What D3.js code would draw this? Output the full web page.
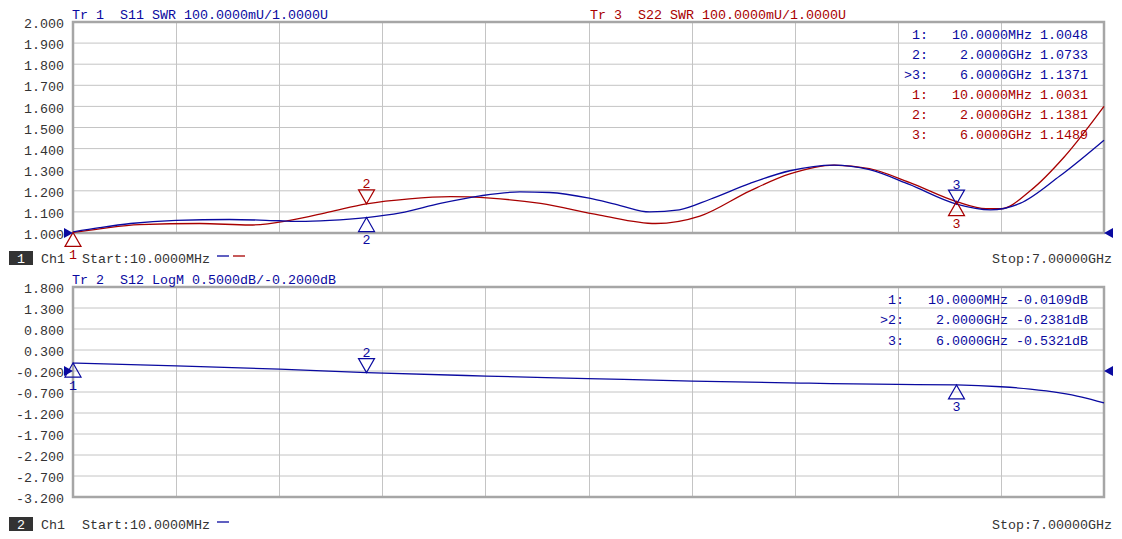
<!DOCTYPE html>
<html>
<head>
<meta charset="utf-8">
<script src="https://cdn.jsdelivr.net/npm/d3@7"></script>
<style>
  html, body { margin: 0; padding: 0; background: #fff; }
  svg text { font-family: "Liberation Mono", "DejaVu Sans Mono", monospace; font-size: 13.33px; white-space: pre; }
</style>
</head>
<body>
<svg id="chart" width="1122" height="539"></svg>
<script>
// ---------------- DATA ----------------
const startGHz = 0.01, stopGHz = 7.0;

const topTickLabels = [2.0, 1.9, 1.8, 1.7, 1.6, 1.5, 1.4, 1.3, 1.2, 1.1, 1.0];
const botTickLabels = [1.8, 1.3, 0.8, 0.3, -0.2, -0.7, -1.2, -1.7, -2.2, -2.7, -3.2];

// Trace 1: S11 SWR (blue)
const s11Freq = [0.01, 0.19, 0.40, 0.71, 1.07, 1.41, 1.55, 1.75, 2.00, 2.23, 2.50, 2.77, 3.04, 3.24, 3.51, 3.72, 3.92, 4.12, 4.33, 4.60, 4.87, 5.17, 5.41, 5.68, 6.00, 6.23, 6.43, 6.70, 7.00];
const s11Vals = [1.0048, 1.025, 1.045, 1.060, 1.064, 1.058, 1.055, 1.060, 1.0733, 1.095, 1.140, 1.176, 1.195, 1.192, 1.165, 1.130, 1.100, 1.110, 1.160, 1.235, 1.295, 1.322, 1.300, 1.230, 1.1371, 1.110, 1.140, 1.270, 1.440];

// Trace 3: S22 SWR (red)
const s22Freq = [0.01, 0.19, 0.46, 0.87, 1.21, 1.48, 1.75, 2.00, 2.29, 2.57, 2.84, 3.18, 3.58, 3.96, 4.26, 4.60, 4.87, 5.17, 5.41, 5.68, 6.00, 6.20, 6.30, 6.50, 6.73, 7.00];
const s22Vals = [1.0031, 1.020, 1.040, 1.045, 1.038, 1.060, 1.100, 1.1381, 1.162, 1.172, 1.165, 1.140, 1.085, 1.045, 1.080, 1.200, 1.280, 1.322, 1.305, 1.240, 1.1489, 1.115, 1.115, 1.200, 1.360, 1.600];

// Trace 2: S12 LogM dB (blue)
const s12Freq = [0.01, 0.71, 1.41, 2.00, 2.81, 3.50, 4.21, 5.00, 5.60, 6.00, 6.30, 6.50, 6.70, 6.85, 7.00];
const s12Vals = [-0.0109, -0.080, -0.155, -0.2381, -0.320, -0.380, -0.440, -0.490, -0.520, -0.5321, -0.575, -0.630, -0.720, -0.820, -0.960];

// Markers
const markerFreq = [0.01, 2.0, 6.0];
const markerNames = ["1", "2", "3"];
const s11Markers = [1.0048, 1.0733, 1.1371];
const s22Markers = [1.0031, 1.1381, 1.1489];
const s12Markers = [-0.0109, -0.2381, -0.5321];
const markerFreqText = ["10.0000MHz", "2.0000GHz", "2.0000GHz"];

// ---------------- LAYOUT ----------------
const BLUE = "#0a0aa0", RED = "#a80000", GRID = "#c4c4c4", BORDER = "#a6a6a6", LABEL = "#333333";
const svg = d3.select("#chart");

const x = d3.scaleLinear().domain([startGHz, stopGHz]).range([73, 1104]);
const yTop = d3.scaleLinear().domain([1.0, 2.0]).range([233, 22]);
const yBot = d3.scaleLinear().domain([-3.2, 1.8]).range([497, 287]);

const xGrid = d3.range(11).map(i => startGHz + i * (stopGHz - startGHz) / 10);

function panel(y, ticks) {
  const g = svg.append("g");
  // gridlines
  g.selectAll("line.h").data(ticks).join("line")
    .attr("x1", x.range()[0]).attr("x2", x.range()[1])
    .attr("y1", d => y(d)).attr("y2", d => y(d))
    .attr("stroke", GRID).attr("stroke-width", 1);
  g.selectAll("line.v").data(xGrid).join("line")
    .attr("x1", d => Math.round(x(d)) + 0.5).attr("x2", d => Math.round(x(d)) + 0.5)
    .attr("y1", y.range()[1]).attr("y2", y.range()[0])
    .attr("stroke", GRID).attr("stroke-width", 1);
  // border
  g.append("rect")
    .attr("x", x.range()[0]).attr("y", y.range()[1])
    .attr("width", x.range()[1] - x.range()[0]).attr("height", y.range()[0] - y.range()[1])
    .attr("fill", "none").attr("stroke", BORDER).attr("stroke-width", 2.5);
  // tick labels
  const ax = d3.axisLeft(y).tickValues(ticks).tickSize(0).tickPadding(9).tickFormat(d => d.toFixed(3));
  const a = svg.append("g").attr("transform", `translate(${x.range()[0]},0)`).call(ax);
  a.select(".domain").remove();
  a.selectAll("text").attr("fill", LABEL).attr("font-family", "Liberation Mono").attr("font-size", "13.33px")
    .attr("dy", "0.42em");
  return g;
}

panel(yTop, topTickLabels);
panel(yBot, botTickLabels);

// headers
function txt(xp, yp, s, color, anchor) {
  return svg.append("text").attr("x", xp).attr("y", yp).attr("fill", color)
    .attr("text-anchor", anchor || "start").text(s);
}
txt(72, 18.5, "Tr 1  S11 SWR 100.0000mU/1.0000U", BLUE);
txt(590, 18.5, "Tr 3  S22 SWR 100.0000mU/1.0000U", RED);
txt(72, 283.5, "Tr 2  S12 LogM 0.5000dB/-0.2000dB", BLUE);

// marker tables
const topRows = [
  [" 1:   10.0000MHz 1.0048", BLUE],
  [" 2:    2.0000GHz 1.0733", BLUE],
  [">3:    6.0000GHz 1.1371", BLUE],
  [" 1:   10.0000MHz 1.0031", RED],
  [" 2:    2.0000GHz 1.1381", RED],
  [" 3:    6.0000GHz 1.1489", RED]
];
topRows.forEach((r, i) => txt(1088, 38.5 + i * 20, r[0], r[1], "end"));
const botRows = [
  [" 1:   10.0000MHz -0.0109dB", BLUE],
  [">2:    2.0000GHz -0.2381dB", BLUE],
  [" 3:    6.0000GHz -0.5321dB", BLUE]
];
botRows.forEach((r, i) => txt(1088, 303.5 + i * 20.5, r[0], r[1], "end"));

// traces
function trace(fr, vals, y, color) {
  const line = d3.line().x((d, i) => x(fr[i])).y(d => y(d)).curve(d3.curveMonotoneX);
  svg.append("path").attr("d", line(vals)).attr("fill", "none")
    .attr("stroke", color).attr("stroke-width", 1.3);
}
trace(s22Freq, s22Vals, yTop, RED);
trace(s11Freq, s11Vals, yTop, BLUE);
trace(s12Freq, s12Vals, yBot, BLUE);

// markers
function marker(f, v, y, color, name, below) {
  const cx = x(f), cy = y(v), w = 8, h = 14;
  const pts = below
    ? [[cx, cy], [cx - w, cy + h], [cx + w, cy + h]]
    : [[cx, cy], [cx - w, cy - h], [cx + w, cy - h]];
  svg.append("path").attr("d", d3.line()(pts) + "Z")
    .attr("fill", "none").attr("stroke", color).attr("stroke-width", 1.2);
  txt(cx, below ? cy + h + 12.5 : cy - h - 1.5, name, color, "middle");
}
const s11Below = [null, true, false];
const s22Below = [true, false, true];
const s12Below = [true, false, true];
markerFreq.forEach((f, i) => {
  if (s11Below[i] !== null) marker(f, s11Markers[i], yTop, BLUE, markerNames[i], s11Below[i]);
  marker(f, s22Markers[i], yTop, RED, markerNames[i], s22Below[i]);
  marker(f, s12Markers[i], yBot, BLUE, markerNames[i], s12Below[i]);
});

// reference arrows
function refArrows(y, val) {
  const yy = y(val);
  svg.append("path").attr("d", `M64,${yy - 5}L73,${yy}L64,${yy + 5}Z`).attr("fill", BLUE);
  svg.append("path").attr("d", `M1113,${yy - 5}L1104,${yy}L1113,${yy + 5}Z`).attr("fill", BLUE);
}
refArrows(yTop, 1.0);
refArrows(yBot, -0.2);

// channel rows
function chRow(yc, num, legend) {
  svg.append("rect").attr("x", 9).attr("y", yc - 7).attr("width", 24).attr("height", 14).attr("fill", "#333");
  txt(21, yc + 4.5, num, "#fff", "middle");
  txt(41, yc + 4.5, "Ch1", LABEL);
  txt(82, yc + 4.5, "Start:10.0000MHz", LABEL);
  legend.forEach((c, i) => svg.append("line")
    .attr("x1", 217 + i * 16).attr("x2", 229 + i * 16)
    .attr("y1", yc - 2).attr("y2", yc - 2).attr("stroke", c).attr("stroke-width", 1.3));
  txt(1112, yc + 4.5, "Stop:7.00000GHz", LABEL, "end");
}
chRow(258, "1", [BLUE, RED]);
chRow(524, "2", [BLUE]);
</script>
</body>
</html>
